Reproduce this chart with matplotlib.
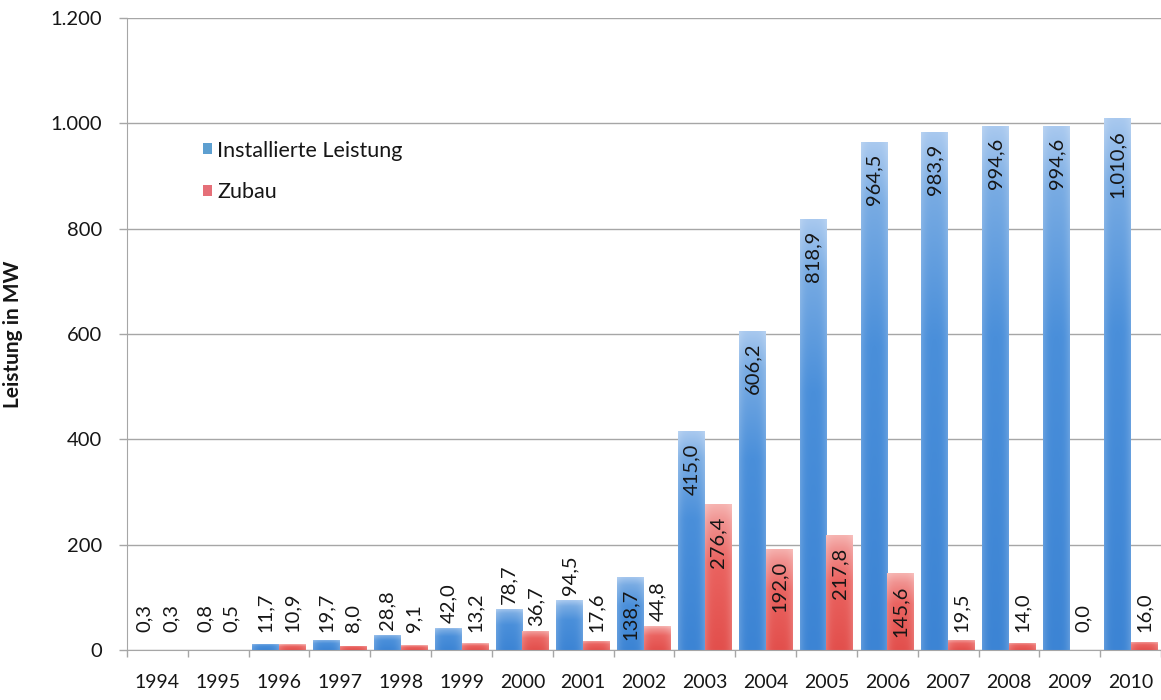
import numpy as np
import matplotlib
matplotlib.use("Agg")
import matplotlib.pyplot as plt
from matplotlib.colors import LinearSegmentedColormap, to_rgb

years = ["1994", "1995", "1996", "1997", "1998", "1999", "2000", "2001", "2002",
         "2003", "2004", "2005", "2006", "2007", "2008", "2009", "2010"]
installiert = [0.3, 0.8, 11.7, 19.7, 28.8, 42.0, 78.7, 94.5, 138.7,
               415.0, 606.2, 818.9, 964.5, 983.9, 994.6, 994.6, 1010.6]
zubau = [0.3, 0.5, 10.9, 8.0, 9.1, 13.2, 36.7, 17.6, 44.8,
         276.4, 192.0, 217.8, 145.6, 19.5, 14.0, 0.0, 16.0]
yticks = [0, 200, 400, 600, 800, 1000, 1200]
ytick_labels = ["0", "200", "400", "600", "800", "1.000", "1.200"]
series_names = ["Installierte Leistung", "Zubau"]

plt.rcParams['font.family'] = ['Lato', 'DejaVu Sans']
TXT = "#161616"
GRID = "#a6a6a6"

W, H = 1161, 700
fig = plt.figure(figsize=(W / 100, H / 100), dpi=100)
ax_l, ax_b, ax_r, ax_t = 127, 50, 1161, 18
ax = fig.add_axes([ax_l / W, ax_b / H, (ax_r - ax_l) / W, (H - ax_b - ax_t) / H])
ymax = 1200
px_per_unit = (H - ax_b - ax_t) / ymax

x = np.arange(len(years))
bw = 0.44
blue_stops = [(0.0, "#3c84d4"), (0.6, "#4a8fda"), (0.88, "#78abe3"), (1.0, "#a9c9ef")]
red_stops = [(0.0, "#e24f4c"), (0.6, "#ea6360"), (0.88, "#f09290"), (1.0, "#f6b3b0")]

b1 = ax.bar(x - bw / 2, installiert, bw, color="#5d9fd0", zorder=2,
            label=series_names[0])
b2 = ax.bar(x + bw / 2, zubau, bw, color="#e56f78", zorder=2,
            label=series_names[1])


def gradient_fill(bars, stops):
    cmap = LinearSegmentedColormap.from_list("g", stops)
    ny, nx = 256, 32
    v = np.linspace(0, 1, ny)
    base = cmap(v)[:, :3]
    hx = np.linspace(-1, 1, nx)
    edge = 0.18 * np.abs(hx) ** 3
    img = base[:, None, :] * (1 - edge[None, :, None]) + edge[None, :, None]
    for p in bars:
        bx, by = p.get_x(), p.get_y()
        w, h = p.get_width(), p.get_height()
        if h <= 0:
            continue
        im = ax.imshow(img, origin="lower", aspect="auto",
                       extent=[bx, bx + w, by, by + h], zorder=2.5,
                       interpolation="bilinear")
        im.set_clip_path(p)


gradient_fill(b1, blue_stops)
gradient_fill(b2, red_stops)

ax.set_xlim(-0.5, len(years) - 0.5)
ax.set_ylim(0, ymax)


def fmt(v):
    s = f"{v:,.1f}"
    return s.replace(",", "X").replace(".", ",").replace("X", ".")


def label_bars(xs, vals):
    for xi, v in zip(xs, vals):
        txt = fmt(v)
        L = len(txt) * 11.5
        hpx = v * px_per_unit
        if hpx >= L + 14:
            off = -12
            va = "top"
        else:
            off = max(5, 18 - hpx)
            va = "bottom"
        ax.annotate(txt, (xi, v), xytext=(0, off * 0.72), textcoords="offset points",
                    rotation=90, ha="center", va=va, fontsize=14.5, color=TXT,
                    zorder=4)


label_bars(x - bw / 2, installiert)
label_bars(x + bw / 2, zubau)

ax.set_yticks(yticks)
ax.set_yticklabels(ytick_labels)
ax.yaxis.grid(True, color=GRID, linewidth=1.0, zorder=0)
ax.set_axisbelow(True)
ax.set_xticks(np.arange(len(years) + 1) - 0.5)
ax.set_xticklabels([])
ax.set_xticks(x, minor=True)
ax.set_xticklabels(years, minor=True)
ax.tick_params(axis="x", which="major", length=5, color=GRID, width=1)
ax.tick_params(axis="x", which="minor", length=0, pad=17, labelsize=14, labelcolor=TXT)
ax.tick_params(axis="y", length=6, color=GRID, width=1, pad=12, labelsize=14.5,
               labelcolor=TXT)

for s in ["top", "right"]:
    ax.spines[s].set_visible(False)
ax.spines["left"].set_color(GRID)
ax.spines["bottom"].set_color(GRID)

ax.set_ylabel("Leistung in MW", fontsize=15, fontweight="bold", color=TXT)
ax.yaxis.set_label_coords(-0.1006, 0.50)

leg = ax.legend(loc="upper left", bbox_to_anchor=(0.0735, 0.806), frameon=False,
                handlelength=0.42, handleheight=0.42, handletextpad=0.25,
                labelspacing=1.0, borderpad=0, borderaxespad=0,
                fontsize=15.5, labelcolor=TXT)

fig.savefig("out.png", dpi=100)
